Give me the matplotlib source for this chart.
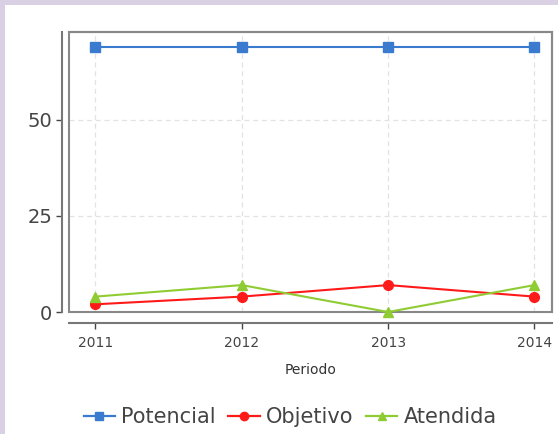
import matplotlib.pyplot as plt
from matplotlib.patches import Rectangle
from matplotlib.lines import Line2D

# ---------- data ----------
periodos = ["2011", "2012", "2013", "2014"]
potencial = [69, 69, 69, 69]
objetivo = [2, 4, 7, 4]
atendida = [4, 7, 0, 7]

W, H = 558, 434
fig = plt.figure(figsize=(W / 100, H / 100), dpi=100)
fig.patch.set_facecolor("white")

# lavender frame (top and left)
fig.patches.append(Rectangle((0, 1 - 5 / H), 1, 5 / H, transform=fig.transFigure,
                             facecolor="#d9d0e4", edgecolor="none"))
fig.patches.append(Rectangle((0, 0), 5 / W, 1, transform=fig.transFigure,
                             facecolor="#d9d0e4", edgecolor="none"))

left, right, top, bottom = 69, 552, 32, 312
ax = fig.add_axes([left / W, 1 - bottom / H, (right - left) / W, (bottom - top) / H])

x = list(range(len(periodos)))
ax.plot(x, potencial, color="#3a7bd0", marker="s", markersize=6.5, lw=1.5, clip_on=False, zorder=3)
ax.plot(x, objetivo, color="#ff1a1a", marker="o", markersize=7, lw=1.5, clip_on=False, zorder=3)
ax.plot(x, atendida, color="#8fcc33", marker="^", markersize=7, lw=1.5, clip_on=False, zorder=3)

ax.set_xlim(-0.18, 3.12)
ax.set_ylim(0, 72.8)
ax.set_yticks([0, 25, 50])
ax.set_xticks(x)
ax.set_xticklabels(periodos, family="DejaVu Sans", fontsize=10.5, color="#333333")
ax.tick_params(axis="y", labelsize=14, colors="#444444", length=4, width=1, pad=3)
ax.tick_params(axis="x", length=4, width=1, pad=5, colors="#444444")
for lab in ax.get_xticklabels():
    lab.set_color("#333333")

ax.grid(True, color="#e2e2e2", linestyle=(0, (4, 3)), linewidth=0.9)
ax.set_axisbelow(True)

# box around plot area
for s in ["top", "right"]:
    ax.spines[s].set_color("#888888")
    ax.spines[s].set_linewidth(1.5)
ax.add_patch(Rectangle((0, 0), 1, 1, transform=ax.transAxes, fill=False,
                       edgecolor="#888888", linewidth=1.5, clip_on=False, zorder=2))

# detached axis lines
ax.spines["left"].set_position(("outward", 5))
ax.spines["bottom"].set_position(("outward", 8))
for s in ["left", "bottom"]:
    ax.spines[s].set_color("#777777")
    ax.spines[s].set_linewidth(1.5)

ax.set_xlabel("Periodo", fontsize=10, color="#333333", labelpad=10)

handles = [
    Line2D([], [], color="#3a7bd0", marker="s", markersize=6, lw=1.6),
    Line2D([], [], color="#ff1a1a", marker="o", markersize=6, lw=1.6),
    Line2D([], [], color="#8fcc33", marker="^", markersize=6, lw=1.6),
]
fig.legend(handles, ["Potencial", "Objetivo", "Atendida"], loc="center",
           bbox_to_anchor=(0.52, 1 - 417 / H), ncol=3, frameon=False,
           fontsize=15, handlelength=1.5, handletextpad=0.3, columnspacing=0.6,
           labelcolor="#444444")

fig.savefig("out.png", dpi=100)
